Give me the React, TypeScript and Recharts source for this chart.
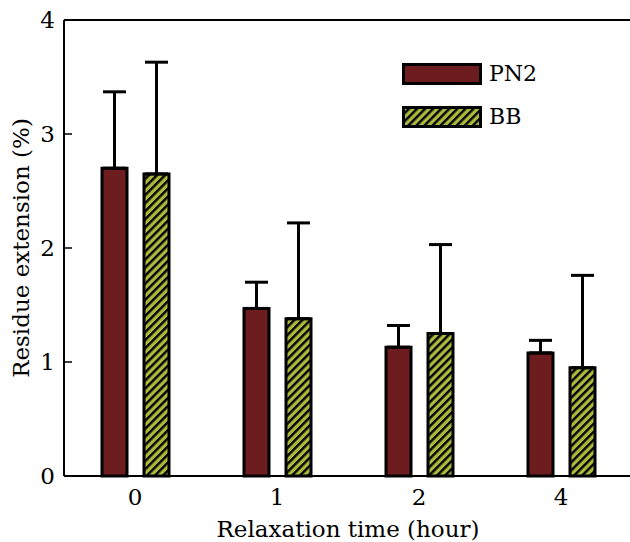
import { Bar, BarChart, ErrorBar, Legend, ReferenceLine, XAxis, YAxis } from "recharts";

const times = ["0", "1", "2", "4"];
const pn2 = [2.7, 1.47, 1.13, 1.08];
const pn2Err = [0.67, 0.23, 0.19, 0.11];
const bb = [2.65, 1.38, 1.25, 0.95];
const bbErr = [0.98, 0.84, 0.78, 0.81];
const yTicks = [0, 1, 2, 3, 4];

const RED = "#6d1c1f";
const GREEN = "#abba3c";
const FONT = "DejaVu Serif";
const FS = 23;

const data = times.map((t, i) => ({
  t,
  pn2: pn2[i],
  pn2Err: [0, pn2Err[i]],
  bb: bb[i],
  bbErr: [0, bbErr[i]],
}));

const LegendBox = () => (
  <div style={{ fontFamily: FONT, fontSize: 22, color: "#000" }}>
    {[
      { name: "PN2", fill: RED },
      { name: "BB", fill: "url(#hatch)" },
    ].map((d, i) => (
      <div key={d.name} style={{ display: "flex", alignItems: "center", height: 22, marginBottom: i === 0 ? 21 : 0 }}>
        <svg width={80} height={22} style={{ display: "block" }}>
          <rect x={1.5} y={1.5} width={77} height={19} fill={d.fill} stroke="#000" strokeWidth={3} />
        </svg>
        <span style={{ marginLeft: 7, lineHeight: "22px" }}>{d.name}</span>
      </div>
    ))}
  </div>
);

export default function App() {
  return (
    <div style={{ position: "absolute", left: 0, top: 0, width: 630, height: 542, overflow: "hidden", background: "#fff" }}>
      <svg width={0} height={0} style={{ position: "absolute" }}>
        <defs>
          <pattern id="hatch" width={5.7} height={5.7} patternUnits="userSpaceOnUse" patternTransform="rotate(45)">
            <rect width={5.7} height={5.7} fill={GREEN} />
            <rect width={2.4} height={5.7} fill="#000" />
          </pattern>
        </defs>
      </svg>
      <BarChart
        width={640}
        height={542}
        data={data}
        margin={{ top: 20, right: 8, left: 0, bottom: 0 }}
        barSize={25}
        barGap={17}
      >
        <XAxis
          dataKey="t"
          height={66}
          axisLine={{ stroke: "#000", strokeWidth: 2 }}
          tickLine={false}
          tickSize={0}
          tickMargin={13}
          tick={{ fill: "#000", fontSize: FS, fontFamily: FONT }}
          label={{ value: "Relaxation time (hour)", position: "insideBottom", offset: 5, fill: "#000", fontSize: FS, fontFamily: FONT }}
        />
        <YAxis
          width={64}
          domain={[0, 4]}
          ticks={yTicks}
          interval={0}
          axisLine={{ stroke: "#000", strokeWidth: 2 }}
          tickLine={{ stroke: "#000", strokeWidth: 1.5 }}
          tickSize={-8}
          tickMargin={17}
          tick={{ fill: "#000", fontSize: FS, fontFamily: FONT }}
          label={{ value: "Residue extension (%)", angle: -90, position: "center", dx: -11, fill: "#000", fontSize: FS, fontFamily: FONT }}
        />
        <ReferenceLine y={4} stroke="#000" strokeWidth={2} />
        <Legend
          layout="horizontal"
          verticalAlign="middle"
          align="center"
          content={<LegendBox />}
          wrapperStyle={{ left: 402, top: 63, width: 160 }}
        />
        <Bar dataKey="pn2" name="PN2" fill={RED} stroke="#000" strokeWidth={3} isAnimationActive={false}>
          <ErrorBar dataKey="pn2Err" width={11.5} stroke="#000" strokeWidth={3} direction="y" />
        </Bar>
        <Bar dataKey="bb" name="BB" fill="url(#hatch)" stroke="#000" strokeWidth={3} isAnimationActive={false}>
          <ErrorBar dataKey="bbErr" width={11.5} stroke="#000" strokeWidth={3} direction="y" />
        </Bar>
      </BarChart>
    </div>
  );
}
